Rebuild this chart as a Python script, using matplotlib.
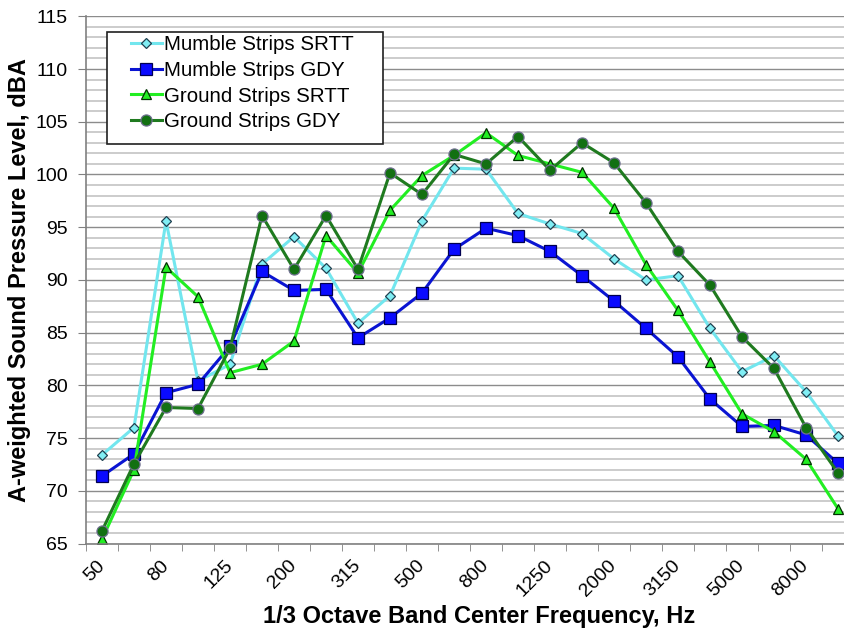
import numpy as np
import matplotlib.pyplot as plt
from matplotlib.patches import Rectangle
from matplotlib.ticker import MultipleLocator

plt.rcParams['font.family'] = ['Liberation Sans', 'DejaVu Sans']

# 1/3 octave band centre frequencies, Hz
bands = ['50', '63', '80', '100', '125', '160', '200', '250', '315', '400',
         '500', '630', '800', '1000', '1250', '1600', '2000', '2500', '3150',
         '4000', '5000', '6300', '8000', '10000']

# A-weighted SPL, dBA
mumble_srtt = [73.4, 76.0, 95.6, 80.4, 82.0, 91.5, 94.1, 91.1, 85.9, 88.5,
               95.6, 100.6, 100.5, 96.3, 95.3, 94.4, 92.0, 90.0, 90.4, 85.4,
               81.3, 82.8, 79.4, 75.2]
mumble_gdy = [71.4, 73.5, 79.3, 80.1, 83.7, 90.8, 89.0, 89.1, 84.5, 86.4,
              88.75, 92.9, 94.9, 94.2, 92.7, 90.4, 88.0, 85.4, 82.7, 78.7,
              76.1, 76.2, 75.3, 72.6]
ground_srtt = [65.4, 72.0, 91.2, 88.4, 81.2, 82.0, 84.2, 94.2, 90.65, 96.6,
               99.9, 101.8, 103.95, 101.8, 101.0, 100.2, 96.8, 91.45, 87.1,
               82.2, 77.3, 75.6, 73.0, 68.3]
ground_gdy = [66.2, 72.55, 77.9, 77.8, 83.5, 96.1, 91.0, 96.1, 91.0, 100.15,
              98.1, 101.9, 101.0, 103.6, 100.4, 103.0, 101.1, 97.3, 92.7, 89.5,
              84.6, 81.6, 76.0, 71.7]

x = np.arange(len(bands))

fig = plt.figure(figsize=(8.44, 6.3), dpi=100)
ax = fig.add_axes([86/844, (630-543.5)/630, 768/844, 527.2/630])

# gridlines: light every 1 dB, darker every 5 dB
ax.yaxis.set_major_locator(MultipleLocator(5))
ax.yaxis.set_minor_locator(MultipleLocator(1))
ax.grid(which='minor', axis='y', color='#c8c8c8', lw=1.3, zorder=0)
ax.grid(which='major', axis='y', color='#8c8c8c', lw=1.0, zorder=0)
ax.set_axisbelow(True)

ax.plot(x, mumble_srtt, color='#72e6ee', lw=2.2, marker='D', ms=5.5,
        mfc='#80eef4', mec='#204050', mew=0.9, label='Mumble Strips SRTT')
ax.plot(x, mumble_gdy, color='#0a14d2', lw=2.2, marker='s', ms=8.5,
        mfc='#0a0aff', mec='#000050', mew=0.9, label='Mumble Strips GDY')
ax.plot(x, ground_srtt, color='#22ee22', lw=2.2, marker='^', ms=7.5,
        mfc='#22ee22', mec='#003000', mew=0.9, label='Ground Strips SRTT')
ax.plot(x, ground_gdy, color='#1f7a1f', lw=2.2, marker='o', ms=8,
        mfc='#127012', mec='#707090', mew=0.9, label='Ground Strips GDY')

ax.set_xlim(-0.5, len(bands) - 0.5)
ax.set_ylim(65, 115)

# category axis: labels on every other band, tick marks between bands
ax.set_xticks(x[::2])
ax.set_xticklabels(bands[::2], rotation=45, ha='right', va='center',
                   rotation_mode='anchor', fontsize=14)
ax.set_xticks(np.arange(len(bands) + 1) - 0.5, minor=True)
ax.tick_params(axis='x', which='major', length=0, pad=14)
ax.tick_params(axis='x', which='minor', length=5, color='#808080')
ax.tick_params(axis='y', which='major', length=6, color='#808080',
               labelsize=14, pad=7)
ax.tick_params(axis='y', which='minor', length=0)

for s in ['top', 'right']:
    ax.spines[s].set_visible(False)
for s in ['left', 'bottom']:
    ax.spines[s].set_color('#808080')
    ax.spines[s].set_linewidth(1.2)

ax.set_ylabel('A-weighted Sound Pressure Level, dBA', fontsize=17,
              fontweight='bold')
ax.yaxis.set_label_coords(-0.072, 0.5)
ax.set_xlabel('1/3 Octave Band Center Frequency, Hz', fontsize=17,
              fontweight='bold')
ax.xaxis.set_label_coords(0.512, -0.117)

# legend box
fig.patches.append(Rectangle((106.7/844, 1 - 144/630), 276/844, 111.7/630,
                             transform=fig.transFigure, fill=True,
                             facecolor='white', edgecolor='#202020', lw=1.2,
                             zorder=5))
leg = fig.legend(loc='upper left', bbox_to_anchor=(131/844, 1 - 35/630),
                 frameon=False, fontsize=14.8, handlelength=1.5,
                 handletextpad=0.1, labelspacing=0.33, borderpad=0,
                 borderaxespad=0)
leg.set_zorder(6)

fig.savefig('out.png', dpi=100)
